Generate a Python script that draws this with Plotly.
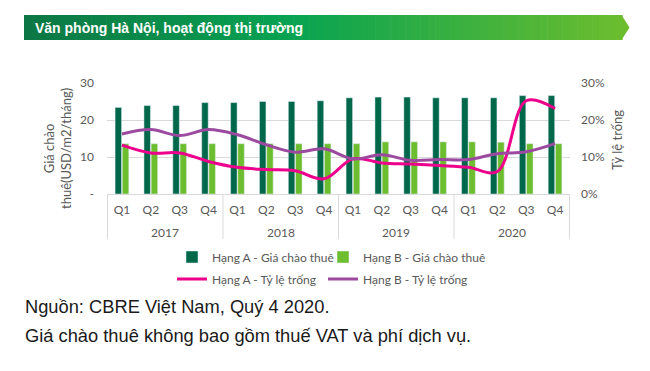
import plotly.graph_objects as go

years = ["2017"] * 4 + ["2018"] * 4 + ["2019"] * 4 + ["2020"] * 4
quarters = ["Q1", "Q2", "Q3", "Q4"] * 4

rent_a = [23.4, 23.9, 23.9, 24.7, 24.7, 25.0, 25.0, 25.2,
          26.0, 26.2, 26.2, 26.0, 26.0, 26.0, 26.6, 26.6]
rent_b = [13.6, 13.6, 13.6, 13.6, 13.6, 13.6, 13.6, 13.6,
          13.6, 14.1, 14.1, 14.1, 14.1, 14.0, 13.6, 13.6]
vac_a = [0.132, 0.111, 0.111, 0.088, 0.072, 0.066, 0.063, 0.041,
         0.095, 0.084, 0.081, 0.077, 0.072, 0.061, 0.252, 0.231]
vac_b = [0.162, 0.174, 0.158, 0.174, 0.160, 0.133, 0.113, 0.122,
         0.095, 0.106, 0.091, 0.093, 0.093, 0.109, 0.114, 0.136]

left_ticks = [0, 10, 20, 30]
left_ticktext = ["-", "10", "20", "30"]
right_ticks = [0, 0.1, 0.2, 0.3]

W, H = 650, 371
PL, PR, PT, PB = 107, 570, 83, 194  # plot area in px

def px(x):
    return (x - PL) / (PR - PL)

def py(y):
    return (PB - y) / (PB - PT)

cats = [q + " " + y for q, y in zip(quarters, years)]
GREY = "#595959"
LINEGREY = "#D9D9D9"
FONT = "Lato, 'Open Sans', sans-serif"

fig = go.Figure()
fig.add_trace(go.Bar(x=cats, y=rent_a, name="Hạng A - Giá chào thuê",
                     marker_color="#00684A", legend="legend", legendwidth=106))
fig.add_trace(go.Bar(x=cats, y=rent_b, name="Hạng B - Giá chào thuê",
                     marker_color="#6CBE2E", legend="legend", legendwidth=140))
fig.add_trace(go.Scatter(x=cats, y=vac_a, name="Hạng A - Tỷ lệ trống", yaxis="y2",
                         mode="lines", line=dict(color="#EC008C", width=3, shape="spline", smoothing=1),
                         legend="legend2", legendwidth=106))
fig.add_trace(go.Scatter(x=cats, y=vac_b, name="Hạng B - Tỷ lệ trống", yaxis="y2",
                         mode="lines", line=dict(color="#9B4A9F", width=3, shape="spline", smoothing=1),
                         legend="legend2", legendwidth=140))

shapes = []
# gradient banner
stops = [(0.0, (12, 118, 68)), (0.45, (8, 163, 82)), (1.0, (107, 189, 46))]

def col(t):
    for (t0, c0), (t1, c1) in zip(stops[:-1], stops[1:]):
        if t0 <= t <= t1:
            f = (t - t0) / (t1 - t0)
            return "rgb(%d,%d,%d)" % tuple(round(a + (b - a) * f) for a, b in zip(c0, c1))
    return "rgb(%d,%d,%d)" % stops[-1][1]

x0, x1, y0, y1 = 24, 622, 15, 40
N = 80
for i in range(N):
    a = x0 + (x1 - x0) * i / N
    b = x0 + (x1 - x0) * (i + 1) / N + 0.6
    shapes.append(dict(type="rect", xref="paper", yref="paper",
                       x0=px(a), x1=px(b), y0=py(y1), y1=py(y0),
                       fillcolor=col((i + 0.5) / N), line=dict(width=0), layer="below"))
shapes.append(dict(type="path", xref="paper", yref="paper",
                   path="M %f %f L %f %f L %f %f Z" % (px(621.5), py(y0), px(629.5), py(27.5), px(621.5), py(y1)),
                   fillcolor=col(1.0), line=dict(width=0), layer="below"))

# year groups: dividers and labels
year_order = []
for y in years:
    if y not in year_order:
        year_order.append(y)
bounds = []
annotations = []
for y in year_order:
    idx = [i for i, v in enumerate(years) if v == y]
    bounds.append(idx[0] - 0.5)
    annotations.append(dict(text=y, xref="x", yref="paper", x=(idx[0] + idx[-1]) / 2, y=py(232),
                            xanchor="center", yanchor="middle", showarrow=False,
                            font=dict(family=FONT, size=12, color=GREY)))
bounds.append(len(years) - 0.5)
for b in bounds:
    shapes.append(dict(type="line", xref="x", yref="paper", x0=b, x1=b, y0=0, y1=py(239),
                       line=dict(color=LINEGREY, width=1)))

annotations += [
    dict(text="<b>Văn phòng Hà Nội, hoạt động thị trường</b>", xref="paper", yref="paper",
         x=px(33), y=py(27.5), xanchor="left", yanchor="middle", showarrow=False,
         font=dict(family="Liberation Sans, Arial", size=14, color="white")),
    dict(text="Giá chào<br>thuê(USD/m2/tháng)", xref="paper", yref="paper",
         x=px(57), y=py(149), xanchor="center", yanchor="middle", showarrow=False,
         textangle=-90, font=dict(family=FONT, size=13, color=GREY)),
    dict(text="Tỷ lệ trống", xref="paper", yref="paper",
         x=px(617), y=py(140), xanchor="center", yanchor="middle", showarrow=False,
         textangle=-90, font=dict(family=FONT, size=13, color=GREY)),
    dict(text="Nguồn: CBRE Việt Nam, Quý 4 2020.", xref="paper", yref="paper",
         x=px(23), y=py(306), xanchor="left", yanchor="middle", showarrow=False,
         font=dict(family="Liberation Sans, Arial", size=18.3, color="#1a1a1a")),
    dict(text="Giá chào thuê không bao gồm thuế VAT và phí dịch vụ.", xref="paper", yref="paper",
         x=px(23), y=py(335), xanchor="left", yanchor="middle", showarrow=False,
         font=dict(family="Liberation Sans, Arial", size=18.3, color="#1a1a1a")),
]

legend_common = dict(orientation="h", xref="container", yref="container",
                     xanchor="left", yanchor="middle",
                     font=dict(family=FONT, size=12, color=GREY), bgcolor="rgba(0,0,0,0)",
                     itemclick=False, itemdoubleclick=False, tracegroupgap=0)

fig.update_layout(
    width=W, height=H,
    margin=dict(l=PL, r=W - PR, t=PT, b=H - PB, pad=0),
    paper_bgcolor="white", plot_bgcolor="white",
    barmode="group", bargap=0.5, bargroupgap=0.1,
    showlegend=True,
    legend=dict(x=172 / W, y=1 - 257 / H, **legend_common),
    legend2=dict(x=172 / W, y=1 - 279 / H, **legend_common),
    xaxis=dict(type="category", tickvals=cats, ticktext=quarters,
               showline=True, linecolor=LINEGREY, linewidth=1,
               tickfont=dict(family=FONT, size=12, color=GREY), showgrid=False, ticks="",
               ticklabelstandoff=5),
    yaxis=dict(range=[0, 30], tickvals=left_ticks, ticktext=left_ticktext,
               showgrid=True, gridcolor=LINEGREY, gridwidth=1, zeroline=False,
               tickfont=dict(family=FONT, size=12, color=GREY), ticklabelstandoff=12, ticks=""),
    yaxis2=dict(range=[0, 0.3], tickvals=right_ticks, tickformat=".0%", overlaying="y", side="right",
                showgrid=False, zeroline=False,
                tickfont=dict(family=FONT, size=12, color=GREY), ticklabelstandoff=10, ticks=""),
    shapes=shapes, annotations=annotations,
)

fig.write_html("out.html", config={"displayModeBar": False},
               post_script="document.body.style.margin='0';")
